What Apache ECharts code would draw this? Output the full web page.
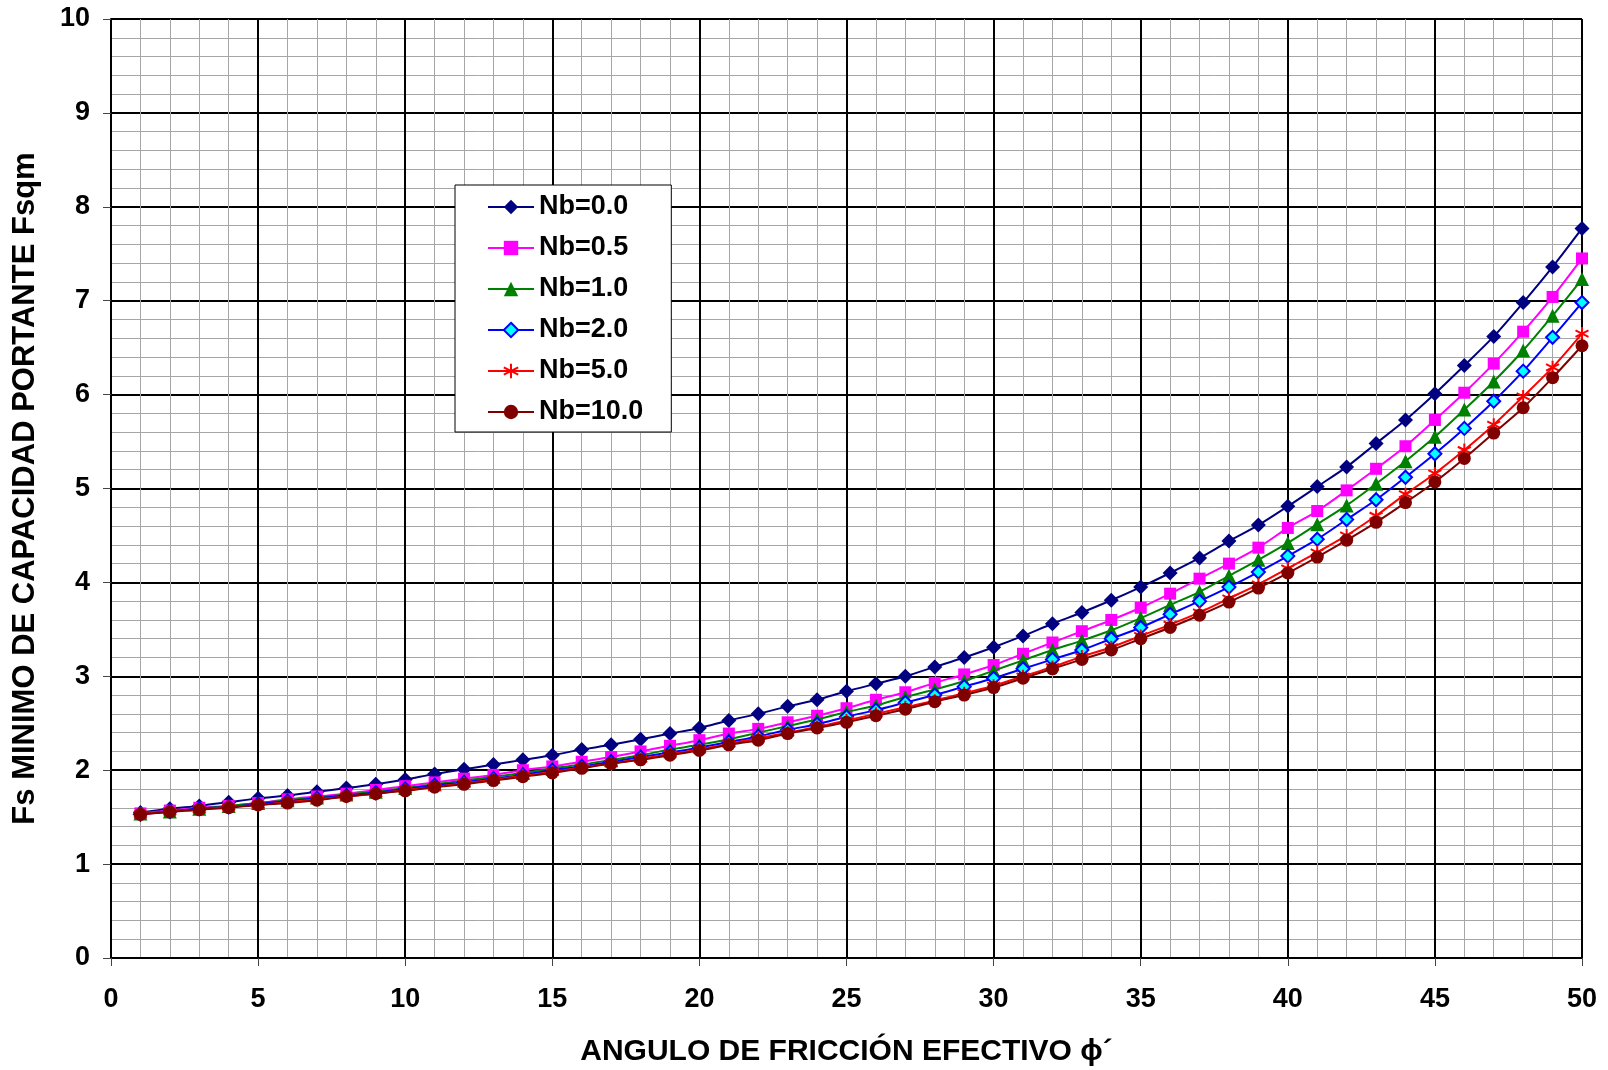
<!DOCTYPE html>
<html>
<head>
<meta charset="utf-8">
<script src="https://cdn.jsdelivr.net/npm/echarts@6/dist/echarts.min.js"></script>
<style>
html,body{margin:0;padding:0;background:#fff;}
#chart{width:1608px;height:1070px;}
</style>
</head>
<body>
<div id="chart"></div>
<script>
const angles = [1,2,3,4,5,6,7,8,9,10,11,12,13,14,15,16,17,18,19,20,21,22,23,24,25,26,27,28,29,30,31,32,33,34,35,36,37,38,39,40,41,42,43,44,45,46,47,48,49,50];
const nb00 = [1.55,1.59,1.62,1.66,1.70,1.73,1.77,1.81,1.85,1.90, 1.96,2.01,2.06,2.11,2.16,2.22,2.27,2.33,2.39,2.45, 2.53,2.60,2.68,2.75,2.84,2.92,3.00,3.10,3.20,3.31, 3.43,3.56,3.68,3.81,3.95,4.10,4.26,4.44,4.61,4.81, 5.02,5.23,5.48,5.73,6.01,6.31,6.62,6.98,7.36,7.77];
const nb05 = [1.54,1.57,1.60,1.62,1.65,1.69,1.72,1.75,1.79,1.83, 1.87,1.91,1.95,2.00,2.04,2.09,2.14,2.20,2.26,2.32, 2.39,2.44,2.51,2.58,2.66,2.75,2.83,2.93,3.02,3.12, 3.24,3.36,3.48,3.60,3.73,3.88,4.04,4.20,4.37,4.58, 4.76,4.98,5.21,5.45,5.73,6.02,6.33,6.67,7.04,7.45];
const nb10 = [1.54,1.56,1.59,1.62,1.65,1.68,1.71,1.74,1.77,1.81, 1.85,1.89,1.93,1.97,2.02,2.06,2.11,2.16,2.22,2.27, 2.33,2.40,2.47,2.54,2.62,2.69,2.78,2.86,2.95,3.06, 3.17,3.28,3.38,3.49,3.62,3.76,3.90,4.07,4.24,4.42, 4.62,4.82,5.05,5.29,5.55,5.84,6.14,6.47,6.84,7.23];
const nb20 = [1.53,1.56,1.59,1.61,1.64,1.67,1.70,1.73,1.76,1.80, 1.84,1.87,1.91,1.95,2.00,2.04,2.09,2.14,2.19,2.24, 2.30,2.36,2.43,2.49,2.57,2.64,2.72,2.80,2.89,2.98, 3.08,3.18,3.28,3.40,3.52,3.66,3.80,3.95,4.11,4.28, 4.46,4.67,4.88,5.12,5.37,5.64,5.93,6.25,6.61,6.98];
const nb50 = [1.53,1.56,1.58,1.61,1.63,1.66,1.69,1.72,1.75,1.79, 1.82,1.86,1.90,1.94,1.98,2.03,2.07,2.12,2.17,2.22, 2.28,2.34,2.40,2.46,2.53,2.60,2.67,2.74,2.82,2.90, 3.00,3.10,3.21,3.31,3.43,3.55,3.68,3.83,3.98,4.15, 4.32,4.50,4.71,4.94,5.16,5.41,5.68,5.98,6.29,6.65];
const nb100 = [1.53,1.555,1.58,1.60,1.63,1.65,1.68,1.72,1.75,1.78, 1.82,1.85,1.89,1.93,1.97,2.02,2.07,2.11,2.16,2.21, 2.27,2.32,2.39,2.45,2.51,2.58,2.65,2.73,2.80,2.88, 2.98,3.08,3.18,3.28,3.40,3.52,3.65,3.79,3.94,4.10, 4.27,4.45,4.64,4.85,5.07,5.32,5.59,5.86,6.18,6.52];
const seriesNames = ['Nb=0.0','Nb=0.5','Nb=1.0','Nb=2.0','Nb=5.0','Nb=10.0'];
const xTitle = 'ANGULO DE FRICCIÓN EFECTIVO ϕ´';
const yTitle = 'Fs MINIMO DE CAPACIDAD PORTANTE Fsqm';

const FONT = '"Liberation Sans", Arial, sans-serif';
const asterisk = 'path://M5,0 L5,10 M0.7,2.5 L9.3,7.5 M0.7,7.5 L9.3,2.5';

function pairs(ys){ return angles.map((a,i)=>[a, ys[i]]); }

const styles = [
  {data: nb00, color:'#000080', symbol:'diamond', size:15, itemStyle:{color:'#000080'}},
  {data: nb05, color:'#FF00FF', symbol:'rect', size:12, itemStyle:{color:'#FF00FF'}},
  {data: nb10, color:'#008000', symbol:'triangle', size:14, itemStyle:{color:'#008000'}},
  {data: nb20, color:'#0000FF', symbol:'diamond', size:13, itemStyle:{color:'#00FFFF', borderColor:'#0000FF', borderWidth:2}},
  {data: nb50, color:'#FF0000', symbol:asterisk, size:13, itemStyle:{color:'rgba(0,0,0,0)', borderColor:'#FF0000', borderWidth:2}},
  {data: nb100, color:'#800000', symbol:'circle', size:13, itemStyle:{color:'#800000'}}
];

const series = styles.map((s,i)=>({
  name: seriesNames[i],
  type:'line',
  data: pairs(s.data),
  smooth: 0.3,
  symbol: s.symbol,
  symbolSize: s.size,
  showAllSymbol: true,
  lineStyle:{color:s.color, width:2},
  itemStyle: s.itemStyle,
  emphasis:{disabled:true},
  animation:false,
  z: 3 + i
}));

const chart = echarts.init(document.getElementById('chart'), null, {renderer:'canvas'});
chart.setOption({
  backgroundColor:'#ffffff',
  animation:false,
  grid:{left:111, right:26, top:19, bottom:112, containLabel:false, outerBoundsMode:'none'},
  legend:{
    orient:'vertical',
    left:455, top:185,
    padding:[7,28,5,32],
    backgroundColor:'#ffffff',
    borderColor:'#000000',
    borderWidth:1,
    itemWidth:46,
    itemHeight:18,
    itemGap:11,
    textStyle:{fontFamily:FONT, fontWeight:'bold', fontSize:27, color:'#000', lineHeight:30},
    data: seriesNames
  },
  xAxis:{
    type:'value', min:0, max:50, interval:5,
    name:xTitle, nameLocation:'middle', nameGap:79,
    nameTextStyle:{fontFamily:FONT, fontWeight:'bold', fontSize:30, color:'#000'},
    axisLine:{show:true, onZero:false, lineStyle:{color:'#000', width:2}},
    axisTick:{show:true, length:8, lineStyle:{color:'#444', width:1}},
    axisLabel:{fontFamily:FONT, fontWeight:'bold', fontSize:27, color:'#000', margin:28},
    splitLine:{show:true, lineStyle:{color:'#000', width:2}},
    minorTick:{show:false, splitNumber:5},
    minorSplitLine:{show:true, lineStyle:{color:'#a6a6a6', width:1}}
  },
  yAxis:{
    type:'value', min:0, max:10, interval:1,
    name:yTitle, nameLocation:'middle', nameGap:70, nameRotate:90,
    nameTextStyle:{fontFamily:FONT, fontWeight:'bold', fontSize:31, color:'#000'},
    axisLine:{show:true, onZero:false, lineStyle:{color:'#000', width:2}},
    axisTick:{show:true, length:8, lineStyle:{color:'#444', width:1}},
    axisLabel:{fontFamily:FONT, fontWeight:'bold', fontSize:27, color:'#000', margin:21},
    splitLine:{show:true, lineStyle:{color:'#000', width:2}},
    minorTick:{show:false, splitNumber:5},
    minorSplitLine:{show:true, lineStyle:{color:'#a6a6a6', width:1}}
  },
  series: series
});
</script>
</body>
</html>
